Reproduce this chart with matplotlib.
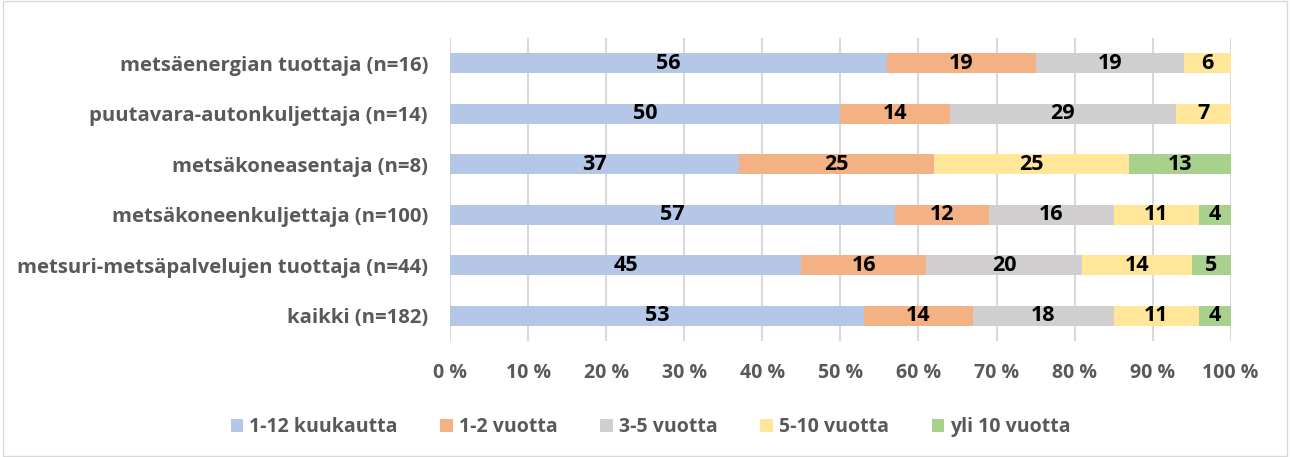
import numpy as np
import matplotlib.pyplot as plt
from matplotlib.patches import Rectangle

plt.rcParams['font.family'] = ['Open Sans', 'DejaVu Sans']

categories = ['metsäenergian tuottaja (n=16)',
              'puutavara-autonkuljettaja (n=14)',
              'metsäkoneasentaja (n=8)',
              'metsäkoneenkuljettaja (n=100)',
              'metsuri-metsäpalvelujen tuottaja (n=44)',
              'kaikki (n=182)']
series = ['1-12 kuukautta', '1-2 vuotta', '3-5 vuotta', '5-10 vuotta', 'yli 10 vuotta']
m1_12 = [56, 50, 37, 57, 45, 53]
v1_2 = [19, 14, 25, 12, 16, 14]
v3_5 = [19, 29, 0, 16, 20, 18]
v5_10 = [6, 7, 25, 11, 14, 11]
yli10 = [0, 0, 13, 4, 5, 4]
colors = ['#B4C7E7', '#F4B183', '#D0CECE', '#FFE699', '#A9D18E']
ticks = [0, 10, 20, 30, 40, 50, 60, 70, 80, 90, 100]

fig = plt.figure(figsize=(12.9, 4.57), dpi=100)
ax = fig.add_axes([0.349, 0.254, 0.605, 0.663])
fig.patches.append(Rectangle((0.002, 0.002), 0.996, 0.996, transform=fig.transFigure,
                             fill=False, edgecolor='#D9D9D9', linewidth=1))

y = np.arange(len(categories))
left = np.zeros(len(categories))
for name, vals, c in zip(series, [m1_12, v1_2, v3_5, v5_10, yli10], colors):
    vals = np.array(vals, dtype=float)
    ax.barh(y, vals, left=left, height=0.4, color=c, label=name, zorder=2)
    for yi, l, v in zip(y, left, vals):
        if v > 0:
            ax.text(l + v / 2, yi, f'{int(v)}', ha='center', va='center',
                    fontsize=15.5, fontweight='bold', color='black', zorder=3)
    left += vals

ax.set_xlim(0, 100)
ax.set_ylim(len(categories) - 0.5, -0.5)
ax.set_yticks(y)
ax.set_yticklabels(categories, fontsize=14.6, fontweight='bold', color='#595959')
ax.set_xticks(ticks)
ax.set_xticklabels([f'{t} %' for t in ticks], fontsize=14, fontweight='bold', color='#595959')
ax.tick_params(axis='y', length=0, pad=16)
ax.tick_params(axis='x', length=0, pad=16)
ax.xaxis.grid(True, color='#D9D9D9', linewidth=1.5, zorder=0)
ax.set_axisbelow(True)
for s in ax.spines.values():
    s.set_visible(False)

leg = ax.legend(loc='center', bbox_to_anchor=(0.257, -0.284), ncol=5,
                frameon=False, handlelength=0.65, handleheight=0.65, handletextpad=0.3,
                columnspacing=2.2, prop={'size': 14, 'weight': 'bold'})
for t in leg.get_texts():
    t.set_color('#595959')

fig.savefig('out.png', dpi=100)
